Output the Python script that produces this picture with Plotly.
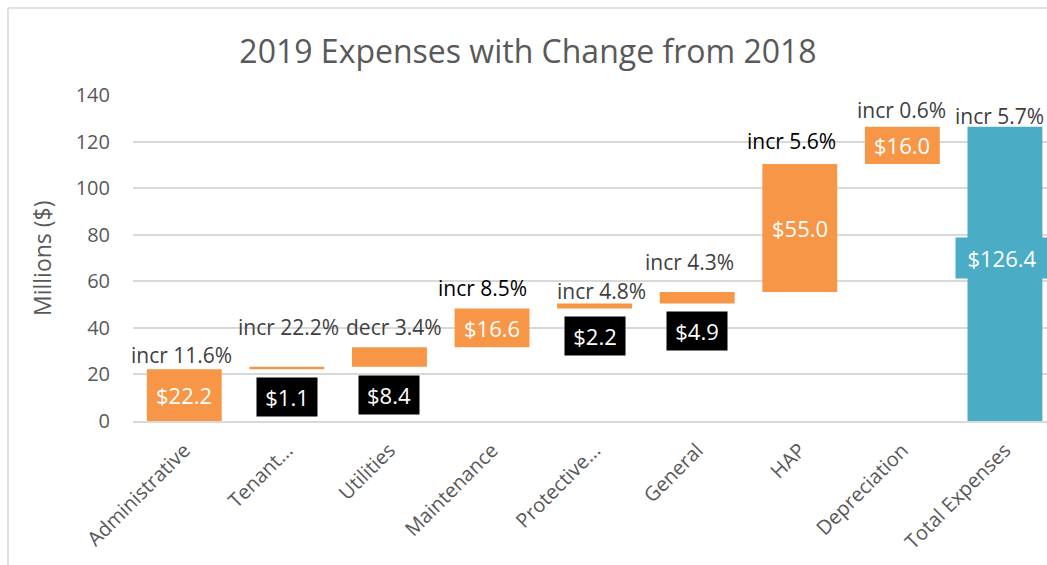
import plotly.graph_objects as go

categories = ["Administrative", "Tenant...", "Utilities", "Maintenance", "Protective...",
              "General", "HAP", "Depreciation", "Total Expenses"]
values = [22.2, 1.1, 8.4, 16.6, 2.2, 4.9, 55.0, 16.0, 126.4]
measures = ["relative"] * 8 + ["total"]
pct_change = [11.6, 22.2, -3.4, 8.5, 4.8, 4.3, 5.6, 0.6, 5.7]
y_ticks = [0, 20, 40, 60, 80, 100, 120, 140]

# style constants (label placement)
label_style = ["in", "box", "box", "in", "box", "box", "in", "in", "total"]
pct_offset = [6, 17, 8.6, 9, 5.5, 13, 10, 7, 4.6]
pct_xshift = [-3, 2, 5, -10, 7, -8, -8, -1, -5]
pct_color = ["#404040", "#404040", "#404040", "#000000", "#404040", "#404040", "#000000", "#404040", "#404040"]

ORANGE = "#F79646"
TEAL = "#4BACC6"
FONT = "Open Sans"
VAL_SIZE = 22
PCT_SIZE = 21

fig = go.Figure(go.Waterfall(
    x=categories, y=values, measure=measures,
    increasing=dict(marker=dict(color=ORANGE)),
    decreasing=dict(marker=dict(color=ORANGE)),
    totals=dict(marker=dict(color=TEAL)),
    connector=dict(visible=False),
    width=0.73, textinfo="none", hoverinfo="x+y",
))

# compute bases / tops
bases, tops = [], []
run = 0
for v, m in zip(values, measures):
    if m == "total":
        bases.append(0); tops.append(run)
    else:
        bases.append(run); run += v; tops.append(run)

ann = []
for i, c in enumerate(categories):
    v = values[i]
    txt = f"${v:.1f}"
    st = label_style[i]
    if st == "in":
        ann.append(dict(x=c, y=(bases[i] + tops[i]) / 2, text=txt, showarrow=False,
                        font=dict(color="white", size=VAL_SIZE, family=FONT)))
    elif st == "box":
        ann.append(dict(x=c, y=bases[i] - 12, text=txt, showarrow=False,
                        font=dict(color="white", size=VAL_SIZE, family=FONT),
                        bgcolor="black", borderpad=4, width=52, height=30))
    else:
        ann.append(dict(x=c, y=70, text=txt, showarrow=False, xshift=-3,
                        font=dict(color="white", size=VAL_SIZE, family=FONT),
                        bgcolor=TEAL, borderpad=5, width=82, height=30))
    p = pct_change[i]
    ptxt = f"{'incr' if p >= 0 else 'decr'} {abs(p):.1f}%"
    ann.append(dict(x=c, y=tops[i] + pct_offset[i], text=ptxt, showarrow=False,
                    xshift=pct_xshift[i],
                    font=dict(color=pct_color[i], size=PCT_SIZE, family=FONT)))

ann.append(dict(xref="paper", yref="paper", x=(42 - 133) / 914, y=0.5, text="Millions ($)",
                textangle=-90, showarrow=False, xanchor="center", yanchor="middle",
                font=dict(size=23, color="#595959", family=FONT)))

fig.update_layout(
    width=1047, height=565,
    margin=dict(l=133, r=0, t=95, b=144),
    paper_bgcolor="white", plot_bgcolor="white",
    showlegend=False,
    title=dict(text="2019 Expenses with Change from 2018", xref="container", yref="container",
               x=528 / 1047, y=1 - 52 / 565, xanchor="center", yanchor="middle",
               font=dict(size=32, color="#595959", family=FONT)),
    font=dict(family=FONT, color="#595959"),
    annotations=ann,
    shapes=[
        dict(type="line", xref="paper", yref="paper", x0=(8 - 133) / 914, x1=(8 - 133) / 914,
             y0=-0.5, y1=(565 - 8 - 144) / 326, line=dict(color="#d9d9d9", width=1.5)),
        dict(type="line", xref="paper", yref="paper", x0=(8 - 133) / 914, x1=1.1,
             y0=(565 - 8 - 144) / 326, y1=(565 - 8 - 144) / 326, line=dict(color="#d9d9d9", width=1.5)),
    ],
)
fig.update_xaxes(range=[-0.5, 8.41], tickangle=-45, showline=True, linecolor="#d9d9d9", linewidth=1.5,
                 tickfont=dict(size=20, color="#595959", family=FONT), showgrid=False, ticks="",
                 ticklabelstandoff=8)
fig.update_yaxes(range=[0, 140], tickvals=y_ticks, showgrid=True, gridcolor="#d9d9d9", gridwidth=1.5,
                 zeroline=False, ticklabelstandoff=22,
                 tickfont=dict(size=20, color="#595959", family=FONT))

fig.write_html("out.html", config={"displayModeBar": False},
               post_script="document.body.style.margin='0px';document.body.style.overflow='hidden';")
